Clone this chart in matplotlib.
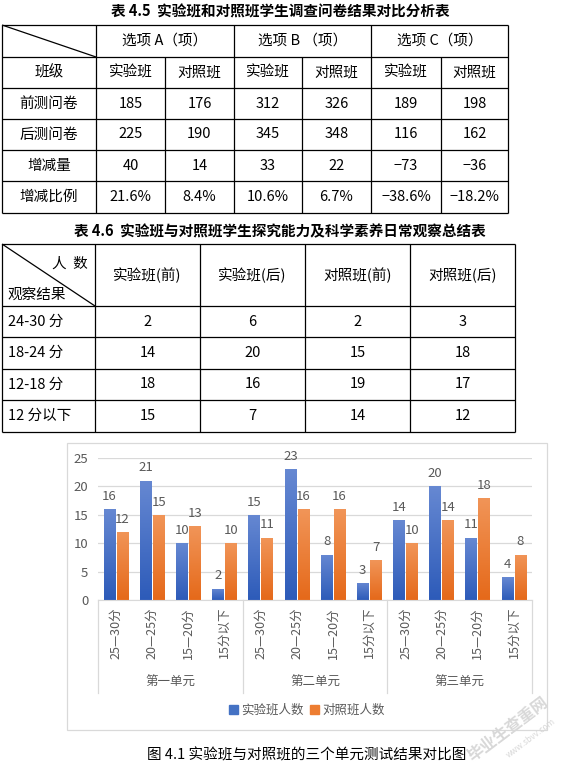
import matplotlib
matplotlib.use("Agg")
import matplotlib.pyplot as plt
import matplotlib.transforms as mtransforms
import numpy as np
from matplotlib.patches import Patch, Rectangle
from matplotlib.colors import LinearSegmentedColormap

plt.rcParams['font.family'] = ['Noto Sans CJK SC', 'DejaVu Sans']

# ─── Table 4.5 data ──────────────────────────────────────────────────────────
t5_title = "表 4.5  实验班和对照班学生调查问卷结果对比分析表"
t5_options = ["选项 A（项）", "选项 B （项）", "选项 C（项）"]
t5_classes = ["实验班", "对照班"]
t5_rows = ["前测问卷", "后测问卷", "增减量", "增减比例"]
t5_values = [
    ["185", "176", "312", "326", "189", "198"],
    ["225", "190", "345", "348", "116", "162"],
    ["40", "14", "33", "22", "−73", "−36"],
    ["21.6%", "8.4%", "10.6%", "6.7%", "−38.6%", "−18.2%"],
]

# ─── Table 4.6 data ──────────────────────────────────────────────────────────
t6_title = "表 4.6  实验班与对照班学生探究能力及科学素养日常观察总结表"
t6_cols = ["实验班(前)", "实验班(后)", "对照班(前)", "对照班(后)"]
t6_rows = ["24-30 分", "18-24 分", "12-18 分", "12 分以下"]
t6_values = [[2, 6, 2, 3], [14, 20, 15, 18], [18, 16, 19, 17], [15, 7, 14, 12]]

# ─── Chart data ──────────────────────────────────────────────────────────────
units = ["第一单元", "第二单元", "第三单元"]
score_bands = ["25—30分", "20—25分", "15—20分", "15分以下"]
exp_counts = [16, 21, 10, 2, 15, 23, 8, 3, 14, 20, 11, 4]
ctl_counts = [12, 15, 13, 10, 11, 16, 16, 7, 10, 14, 18, 8]
caption = "图 4.1 实验班与对照班的三个单元测试结果对比图"

GRAY = "#595959"
GRID = "#d9d9d9"
BLUE_T, BLUE_B = "#6688d2", "#2d5bb9"
ORNG_T, ORNG_B = "#f19558", "#e5691a"

W, H = 576, 769
fig = plt.figure(figsize=(W / 100, H / 100), dpi=100)
fig.patch.set_facecolor("white")
ax0 = fig.add_axes([0, 0, 1, 1])
ax0.set_xlim(0, W)
ax0.set_ylim(H, 0)
ax0.axis("off")

LW = 0.9
TS = 10.5  # table text size

def line(x0, y0, x1, y1):
    ax0.plot([x0, x1], [y0, y1], color="black", lw=LW, solid_capstyle="butt")

def txt(x, y, s, size=TS, ha="center", **kw):
    ax0.text(x, y, s, fontsize=size, ha=ha, va="center", color="black", **kw)

# ─── Table 4.5 ───────────────────────────────────────────────────────────────
txt(280, 12, t5_title, size=10.5, fontweight="bold")
xs = [2, 96, 165, 234, 302, 371, 441, 508]
ys = [25, 57, 88, 119, 150, 181, 213]
for y in ys:
    line(xs[0], y, xs[-1], y)
for x in [2, 96, 234, 371, 508]:
    line(x, ys[0], x, ys[-1])
for x in [165, 302, 441]:
    line(x, ys[1], x, ys[-1])
line(2, 25, 96, 57)
for i, opt in enumerate(t5_options):
    txt((xs[1 + 2 * i] + xs[3 + 2 * i]) / 2, (ys[0] + ys[1]) / 2, opt)
txt((xs[0] + xs[1]) / 2, (ys[1] + ys[2]) / 2, "班级")
for j in range(6):
    cx = (xs[j + 1] + xs[j + 2]) / 2
    txt(cx, (ys[1] + ys[2]) / 2, t5_classes[j % 2])
for r, name in enumerate(t5_rows):
    cy = (ys[r + 2] + ys[r + 3]) / 2
    txt((xs[0] + xs[1]) / 2, cy, name)
    for j, v in enumerate(t5_values[r]):
        txt((xs[j + 1] + xs[j + 2]) / 2, cy, v)

# ─── Table 4.6 ───────────────────────────────────────────────────────────────
txt(280, 231, t6_title, size=10.5, fontweight="bold")
xs2 = [2, 95, 200, 305, 410, 515]
ys2 = [244, 306, 337, 369, 400, 432]
for y in ys2:
    line(xs2[0], y, xs2[-1], y)
for x in xs2:
    line(x, ys2[0], x, ys2[-1])
line(2, 244, 95, 306)
txt(88, 264, "人  数", ha="right")
txt(8, 295, "观察结果", ha="left")
for j, c in enumerate(t6_cols):
    txt((xs2[j + 1] + xs2[j + 2]) / 2, (ys2[0] + ys2[1]) / 2, c)
for r, name in enumerate(t6_rows):
    cy = (ys2[r + 1] + ys2[r + 2]) / 2
    txt(8, cy, name, ha="left")
    for j, v in enumerate(t6_values[r]):
        txt((xs2[j + 1] + xs2[j + 2]) / 2, cy, str(v))

# ─── Chart frame ─────────────────────────────────────────────────────────────
ax0.add_patch(Rectangle((67, 443), 480, 287, fill=False, edgecolor=GRID, lw=0.9))
txt(307, 755, caption, size=10.5)
ax0.text(508, 729, "毕业生查重网", rotation=37, fontsize=11.5, fontweight="bold",
         color="#d8d8d8", ha="center", va="center")
ax0.text(531, 738, "www.sbvv.com", rotation=37, fontsize=6,
         color="#d8d8d8", ha="center", va="center")

# ─── Bar chart ───────────────────────────────────────────────────────────────
ax = fig.add_axes([98 / W, 1 - 600 / H, 434 / W, 142 / H])
x = np.arange(len(exp_counts))
bw = 0.32
off = 0.18

def grad_bars(xpos, vals, c_top, c_bot):
    bars = ax.bar(xpos, vals, bw, color="none", edgecolor="none", zorder=2)
    cmap = LinearSegmentedColormap.from_list("g", [c_bot, c_top])
    grad = np.linspace(1, 0, 100).reshape(-1, 1)
    for b, v in zip(bars, vals):
        im = ax.imshow(grad, extent=[b.get_x(), b.get_x() + b.get_width(), 0, v],
                       cmap=cmap, aspect="auto", origin="upper", vmin=0, vmax=1, zorder=2)
        im.set_clip_path(b)
        ax.annotate(str(v), (b.get_x() + b.get_width() / 2, v), xytext=(0, 4.5),
                    textcoords="offset points", ha="center", va="bottom",
                    fontsize=9.5, color=GRAY)
    return bars

grad_bars(x - off, exp_counts, BLUE_T, BLUE_B)
grad_bars(x + off, ctl_counts, ORNG_T, ORNG_B)

ax.set_xlim(-0.5, len(x) - 0.5)
ax.set_ylim(0, 25)
ax.set_yticks(range(0, 26, 5))
ax.yaxis.grid(True, color=GRID, lw=0.9)
ax.set_axisbelow(True)
for s in ["left", "top", "right"]:
    ax.spines[s].set_visible(False)
ax.spines["bottom"].set_color(GRID)
ax.tick_params(axis="y", length=0, pad=7, labelsize=9.5, labelcolor=GRAY)
ax.set_xticks(x)
ax.set_xticklabels(score_bands * len(units), rotation=90, fontsize=9, color=GRAY)
ax.tick_params(axis="x", length=0, pad=5)

trans = mtransforms.blended_transform_factory(ax.transData, ax.transAxes)
for xb in np.arange(len(units) + 1) * 4 - 0.5:
    ax.plot([xb, xb], [0, -0.655], transform=trans, color=GRID, lw=0.9, clip_on=False)
for i, u in enumerate(units):
    ax.text(1.5 + 4 * i, -0.577, u, transform=trans, ha="center", va="center",
            fontsize=9, color=GRAY)

fig.legend(handles=[Patch(color="#4472C4", label="实验班人数"),
                    Patch(color="#ED7D31", label="对照班人数")],
           loc="center", bbox_to_anchor=(307 / W, 1 - 710 / H), ncol=2, frameon=False,
           fontsize=9, handlelength=0.7, handleheight=0.7, handletextpad=0.3,
           columnspacing=0.5, labelcolor=GRAY)

fig.savefig("out.png", dpi=100, facecolor="white")
